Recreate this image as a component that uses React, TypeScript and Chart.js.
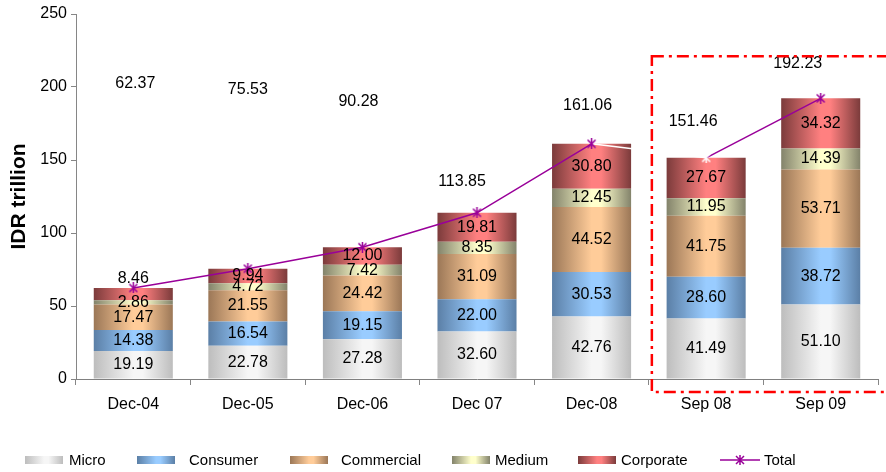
import React, { useEffect, useRef } from "react";
import { Chart, registerables } from "chart.js";
Chart.register(...registerables);

const categories = ["Dec-04", "Dec-05", "Dec-06", "Dec 07", "Dec-08", "Sep 08", "Sep 09"];
const micro = [19.19, 22.78, 27.28, 32.6, 42.76, 41.49, 51.1];
const consumer = [14.38, 16.54, 19.15, 22.0, 30.53, 28.6, 38.72];
const commercial = [17.47, 21.55, 24.42, 31.09, 44.52, 41.75, 53.71];
const medium = [2.86, 4.72, 7.42, 8.35, 12.45, 11.95, 14.39];
const corporate = [8.46, 9.94, 12.0, 19.81, 30.8, 27.67, 34.32];
const total = [62.37, 75.53, 90.28, 113.85, 161.06, 151.46, 192.23];
const yMin = 0;
const yMax = 250;
const yStep = 50;

// where the total labels sit (value units) and their horizontal nudge (px)
const totalLabelAt = [202, 198, 190, 135, 187, 176, 216];
const totalLabelDx = [2, 0, -4, -15, -4, -13, -23];
// highlighted region: last two categories
const highlightFrom = 5;
const highlightTopValue = 221;

const FONT = '"Liberation Sans", Arial, Helvetica, sans-serif';
const PURPLE = "#990099";
const BAR_PCT = 0.69;

const barSeries = [
  { label: "Micro", data: micro, edge: "#bdbdbd", light: "#f6f6f6" },
  { label: "Consumer", data: consumer, edge: "#5b7fa6", light: "#99ccff" },
  { label: "Commercial", data: commercial, edge: "#9b7757", light: "#ffcc99" },
  { label: "Medium", data: medium, edge: "#83836b", light: "#ffffcc" },
  { label: "Corporate", data: corporate, edge: "#7b3b3b", light: "#ff8080" },
];

const legendBoxX = [25, 137, 290, 452, 578];
const legendTextX = [69, 189, 341, 495, 621];

function makeStar(color: string) {
  const c = document.createElement("canvas");
  c.width = 11;
  c.height = 11;
  const g = c.getContext("2d")!;
  g.strokeStyle = color;
  g.lineWidth = 1.5;
  g.beginPath();
  g.moveTo(1.5, 1.5);
  g.lineTo(9.5, 9.5);
  g.moveTo(9.5, 1.5);
  g.lineTo(1.5, 9.5);
  g.moveTo(5.5, 0);
  g.lineTo(5.5, 11);
  g.stroke();
  return c;
}

const overlayPlugin = {
  id: "overlay",
  afterDatasetsDraw(chart: any) {
    const ctx = chart.ctx;
    const xs = chart.scales.x;
    const ys = chart.scales.y;
    ctx.save();
    ctx.font = `16px ${FONT}`;
    ctx.fillStyle = "#000";
    ctx.textAlign = "center";
    ctx.textBaseline = "middle";
    barSeries.forEach((s, di) => {
      const meta = chart.getDatasetMeta(di);
      meta.data.forEach((el: any, i: number) => {
        const { x, y, base } = el.getProps(["x", "y", "base"], true);
        const h = base - y;
        let ty = (y + base) / 2;
        if (di === barSeries.length - 1 && h < 13) ty = y - 9;
        ctx.fillText(s.data[i].toFixed(2), x, ty);
      });
    });
    total.forEach((v, i) => {
      ctx.fillText(v.toFixed(2), xs.getPixelForValue(i) + totalLabelDx[i], ys.getPixelForValue(totalLabelAt[i]));
    });
    ctx.restore();
  },
  afterDraw(chart: any) {
    const ctx = chart.ctx;
    const xs = chart.scales.x;
    const ys = chart.scales.y;
    const left = (xs.getPixelForValue(highlightFrom - 1) + xs.getPixelForValue(highlightFrom)) / 2 + 3;
    const top = ys.getPixelForValue(highlightTopValue);
    const bottom = chart.chartArea.bottom + 13;
    const right = chart.width + 10;
    ctx.save();
    ctx.strokeStyle = "#ff0000";
    ctx.lineWidth = 2.5;
    ctx.setLineDash([12, 5, 3, 5]);
    ctx.strokeRect(left, top, right - left, bottom - top);
    ctx.restore();
  },
};

const legendText: React.CSSProperties = {
  position: "absolute",
  top: 451,
  lineHeight: "18px",
  fontFamily: FONT,
  fontSize: 15,
  color: "#000",
  whiteSpace: "nowrap",
};

export default function App() {
  const ref = useRef<HTMLCanvasElement | null>(null);

  useEffect(() => {
    if (!ref.current) return;
    const starPurple = makeStar(PURPLE);
    const starWhite = makeStar("#ffffff");

    const datasets: any[] = barSeries.map((s) => ({
      type: "bar",
      label: s.label,
      data: s.data,
      stack: "bars",
      order: 2,
      borderWidth: 0,
      categoryPercentage: 1,
      barPercentage: BAR_PCT,
      backgroundColor: (c: any) => {
        const chart = c.chart;
        if (!chart.chartArea || c.dataIndex === undefined) return s.light;
        const xs = chart.scales.x;
        const cx = xs.getPixelForValue(c.dataIndex);
        const w = (xs.width / categories.length) * BAR_PCT;
        const g = chart.ctx.createLinearGradient(cx - w / 2, 0, cx + w / 2, 0);
        g.addColorStop(0, s.edge);
        g.addColorStop(0.5, s.light);
        g.addColorStop(0.62, s.light);
        g.addColorStop(1, s.edge);
        return g;
      },
    }));
    datasets.push({
      type: "line",
      label: "Total",
      data: total,
      stack: "line",
      order: 0,
      borderColor: PURPLE,
      borderWidth: 1.5,
      fill: false,
      tension: 0,
      pointStyle: total.map((_, i) => (i === 5 ? starWhite : starPurple)),
      pointRadius: 5,
      segment: {
        borderColor: (c: any) => (c.p0DataIndex === 4 ? "#ffffff" : PURPLE),
      },
    });

    const chart = new Chart(ref.current, {
      type: "bar",
      data: { labels: categories, datasets },
      options: {
        animation: false,
        responsive: false,
        maintainAspectRatio: false,
        layout: { padding: { top: 14, right: 8, bottom: 53, left: 0 } },
        plugins: { legend: { display: false }, tooltip: { enabled: false } },
        scales: {
          x: {
            stacked: true,
            grid: { display: true, drawOnChartArea: false, offset: true, tickLength: 6, color: "#868686" },
            border: { color: "#808080", width: 1 },
            ticks: { font: { family: FONT, size: 16 }, color: "#000", padding: 10 },
            afterFit: (s: any) => {
              s.height = 40;
            },
          },
          y: {
            stacked: true,
            min: yMin,
            max: yMax,
            ticks: { stepSize: yStep, font: { family: FONT, size: 16 }, color: "#000", padding: 4 },
            grid: { display: true, drawOnChartArea: false, tickLength: 5, color: "#868686" },
            border: { color: "#868686", width: 1 },
            title: {
              display: true,
              text: "IDR trillion",
              font: { family: FONT, size: 21, weight: "bold" },
              color: "#000",
              padding: { top: 7, bottom: 0 },
            },
            afterFit: (s: any) => {
              s.width = 76;
            },
          },
        },
      } as any,
      plugins: [overlayPlugin],
    });
    return () => chart.destroy();
  }, []);

  return (
    <div style={{ position: "fixed", left: 0, top: 0, width: 886, height: 472, background: "#fff", overflow: "hidden" }}>
      <canvas ref={ref} width={886} height={472} style={{ position: "absolute", left: 0, top: 0 }} />
      {barSeries.map((s, i) => (
        <React.Fragment key={s.label}>
          <div
            style={{
              position: "absolute",
              left: legendBoxX[i],
              top: 456,
              width: 38,
              height: 8,
              background: `linear-gradient(to right, ${s.edge} 0%, ${s.light} 50%, ${s.light} 62%, ${s.edge} 100%)`,
            }}
          />
          <div style={{ ...legendText, left: legendTextX[i] }}>{s.label}</div>
        </React.Fragment>
      ))}
      <svg style={{ position: "absolute", left: 720, top: 454 }} width={40} height={12}>
        <line x1={0} y1={6} x2={40} y2={6} stroke={PURPLE} strokeWidth={1.5} />
        <path d="M16 2 L24 10 M24 2 L16 10 M20 1 L20 11" stroke={PURPLE} strokeWidth={1.5} />
      </svg>
      <div style={{ ...legendText, left: 764 }}>Total</div>
    </div>
  );
}
